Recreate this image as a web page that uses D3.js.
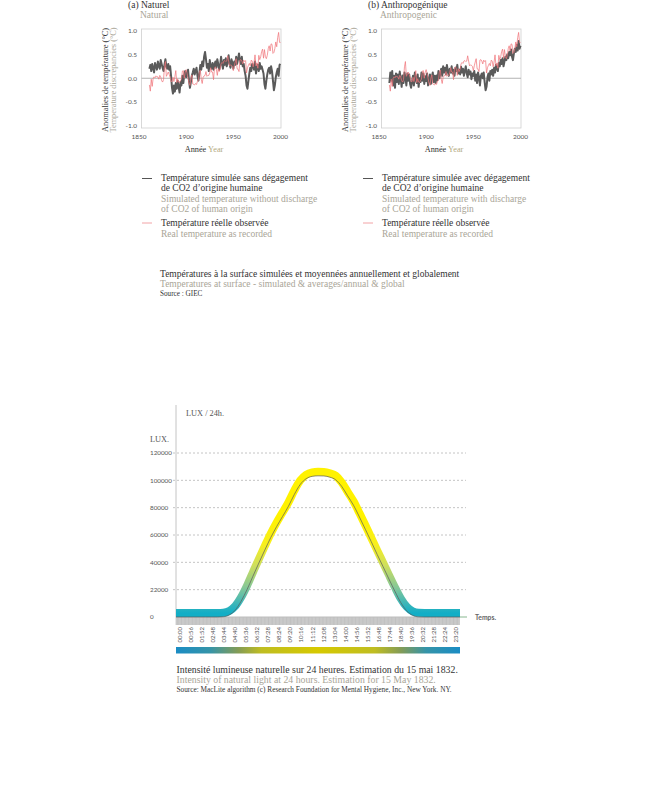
<!DOCTYPE html>
<html><head><meta charset="utf-8">
<script src="https://cdn.jsdelivr.net/npm/d3@7"></script>
<style>body{margin:0;background:#fff}svg{display:block}</style>
</head><body>
<svg id="c" width="648" height="800"></svg>
<script>
// ---------- Data: temperature panels ----------
const startYear = 1861;
const observed = [
 -0.14,-0.27,-0.02,-0.17,0.00,0.03,0.01,0.05,0.03,
 0.03,-0.02,0.06,0.03,-0.05,-0.08,-0.03,0.24,0.35,0.04,
 0.08,0.13,0.08,0.02,-0.07,-0.07,0.02,-0.07,0.03,0.16,
 -0.09,-0.01,-0.08,-0.09,-0.05,-0.02,0.15,0.16,0.00,0.13,
 0.18,0.10,0.00,-0.10,-0.15,0.00,0.07,-0.12,-0.13,-0.14,
 -0.11,-0.13,-0.06,-0.05,0.13,0.17,-0.02,-0.11,0.02,0.05,
 0.06,0.14,0.04,0.06,0.06,0.11,0.22,0.13,0.13,-0.03,
 0.20,0.24,0.19,0.06,0.20,0.14,0.19,0.30,0.33,0.31,
 0.36,0.37,0.35,0.36,0.47,0.36,0.26,0.28,0.27,0.25,
 0.16,0.26,0.34,0.41,0.20,0.19,0.14,0.38,0.39,0.36,
 0.30,0.38,0.35,0.37,0.11,0.22,0.27,0.31,0.26,0.38,
 0.36,0.24,0.34,0.49,0.26,0.32,0.21,0.48,0.39,0.45,
 0.56,0.61,0.42,0.60,0.45,0.41,0.48,0.62,0.68,0.57,
 0.72,0.71,0.52,0.54,0.62,0.76,0.66,0.85,0.96,0.75,
 0.75
];
const simNatural = [
 0.20,0.28,0.15,0.30,0.22,0.12,0.32,0.25,0.18,
 0.35,0.26,0.20,0.38,0.30,0.22,0.15,0.28,0.40,0.24,
 0.20,0.30,0.18,0.25,0.05,-0.20,-0.32,-0.15,-0.28,-0.10,
 -0.22,-0.05,-0.18,-0.30,-0.08,-0.15,0.05,-0.10,0.08,0.15,
 0.02,0.10,0.18,-0.05,-0.20,-0.08,0.05,0.12,0.20,0.08,
 0.15,0.22,0.05,-0.05,0.10,0.28,0.18,0.35,0.25,0.45,
 0.55,0.40,0.22,0.30,0.15,0.38,0.25,0.20,0.32,0.18,
 0.28,0.35,0.22,0.40,0.30,0.18,0.26,0.45,0.30,0.20,
 0.38,0.28,0.42,0.25,0.35,0.48,0.30,0.22,0.40,0.32,
 0.20,0.35,0.28,0.45,0.30,0.40,0.52,0.38,0.30,0.45,
 0.25,0.30,0.15,0.05,-0.15,-0.22,-0.05,0.10,0.22,0.15,
 0.30,0.25,0.18,0.35,0.10,0.22,0.28,0.15,0.32,0.20,
 0.25,0.18,0.10,-0.12,-0.22,-0.05,0.08,0.18,0.22,0.10,
 0.25,0.15,-0.05,-0.25,-0.15,0.02,0.12,0.20,0.05,0.28,
 0.30
];
const simAnthro = [
 -0.10,0.12,-0.05,0.15,-0.15,0.05,-0.20,0.10,-0.08,
 0.08,-0.12,0.14,-0.02,-0.18,0.06,-0.10,0.12,0.02,-0.15,
 0.10,-0.05,0.08,-0.12,-0.20,-0.08,0.05,-0.15,0.12,-0.02,
 -0.10,0.08,-0.18,0.00,-0.08,0.12,-0.05,0.10,-0.12,0.04,
 -0.06,0.10,-0.15,-0.05,0.08,-0.12,0.02,0.12,-0.08,0.05,
 -0.10,0.06,-0.04,0.15,0.00,0.10,0.20,0.05,0.25,0.12,
 0.22,0.08,0.28,0.15,0.05,0.20,0.12,0.25,0.10,0.18,
 0.05,0.22,0.15,0.28,0.10,0.18,0.08,0.24,0.12,0.20,
 0.05,0.15,0.25,0.10,0.02,0.18,0.08,0.14,-0.02,0.10,
 0.05,0.15,-0.05,0.08,-0.10,0.12,0.02,-0.15,0.05,0.10,
 0.00,0.12,-0.08,-0.25,-0.18,0.02,0.10,-0.05,0.15,0.08,
 0.18,0.05,0.22,0.12,0.28,0.20,0.15,0.32,0.25,0.38,
 0.30,0.42,0.25,0.35,0.45,0.38,0.50,0.42,0.55,0.48,
 0.60,0.45,0.38,0.52,0.62,0.55,0.70,0.58,0.78,0.62,
 0.68
];
const yearTicks = [1850, 1900, 1950, 2000];
const tempTicks = [1.0, 0.5, 0.0, -0.5, -1.0];
const tempTickLabels = ["1.0", "0.5", "0.0", "-0.5", "-1.0"];

// ---------- Data: light intensity ----------
const luxTimes = ["00:00","00:30","01:00","01:30","02:00","02:30","03:00","03:30","04:00","04:30",
 "05:00","05:30","06:00","06:30","07:00","07:30","08:00","08:30","09:00","09:30",
 "10:00","10:30","11:00","11:30","12:00","12:30","13:00","13:30","14:00","14:30",
 "15:00","15:30","16:00","16:30","17:00","17:30","18:00","18:30","19:00","19:30",
 "20:00","20:30","21:00","21:30","22:00","22:30","23:00","23:30","24:00"];
const luxValues = [0,0,0,0,0,0,0,0,200,1500,
 5000,11500,20000,29800,39500,48900,58000,66100,73500,81000,
 89700,97000,101200,102900,103300,103200,102300,100400,95600,88700,
 81800,73200,64200,55100,45800,36800,27700,18800,10500,4500,
 1200,100,0,0,0,0,0,0,0];
const luxTicks = [0, 20000, 40000, 60000, 80000, 100000, 120000];
const luxTickLabels = ["0", "22000", "40000", "60000", "80000", "100000", "120000"];
const timeLabels = ["00:00","00:56","01:52","02:48","03:44","04:40","05:36","06:32","07:28","08:24",
 "09:20","10:16","11:12","12:08","13:04","14:00","14:56","15:52","16:48","17:44",
 "18:40","19:36","20:32","21:28","22:24","23:20"];

// ---------- Styles ----------
const SERIF = "'Liberation Serif', 'Times New Roman', serif";
const SANS = "Lato, 'Open Sans', sans-serif";
const DARK = "#333333";
const TAN = "#a9a597";

const svg = d3.select("#c");

function txt(g, x, y, s, opt = {}) {
  return g.append("text").attr("x", x).attr("y", y).text(s)
    .attr("font-family", opt.family || SERIF)
    .attr("font-size", opt.size || 9.5)
    .attr("fill", opt.fill || DARK)
    .attr("text-anchor", opt.anchor || "start")
    .attr("font-weight", opt.weight || "normal");
}

// ---------- Temperature panels ----------
function panel(dx, frTitle, enTitle, sim) {
  const g = svg.append("g").attr("transform", `translate(${dx},0)`);
  const x = d3.scaleLinear().domain([1850, 2000]).range([139, 280.5]);
  const y = d3.scaleLinear().domain([-1, 1]).range([126, 30.5]);

  txt(g, 128, 7.5, frTitle, {size: 9.5});
  txt(g, 140, 17.5, enTitle, {size: 9.5, fill: TAN});

  g.append("rect").attr("x", 141.5).attr("y", 29).attr("width", 139.5).attr("height", 99)
    .attr("fill", "none").attr("stroke", "#cfcfcf").attr("stroke-width", 0.8);
  g.append("line").attr("x1", 141.5).attr("x2", 281).attr("y1", y(0)).attr("y2", y(0))
    .attr("stroke", "#b3b3b3").attr("stroke-width", 1);

  tempTicks.forEach((t, i) => {
    txt(g, 137, y(t) + 2.3, tempTickLabels[i], {family: SANS, size: 6.5, fill: "#555", anchor: "end"});
  });
  yearTicks.forEach(t => {
    txt(g, x(t), 139, String(t), {family: SANS, size: 6.5, fill: "#555", anchor: "middle"});
  });

  const yt = g.append("text").attr("transform", "translate(107.5,80) rotate(-90)")
    .attr("font-family", SERIF).attr("font-size", 8.3).attr("text-anchor", "middle");
  yt.append("tspan").attr("x", 0).attr("y", 0).attr("fill", DARK).text("Anomalies de température (°C)");
  yt.append("tspan").attr("x", 0).attr("y", 8.7).attr("fill", TAN).text("Temperature discrepancies (°C)");

  const xt = g.append("text").attr("x", 204).attr("y", 152).attr("text-anchor", "middle")
    .attr("font-family", SERIF).attr("font-size", 8.3);
  xt.append("tspan").attr("fill", DARK).text("Année ");
  xt.append("tspan").attr("fill", "#b3aa80").text("Year");

  const line = d3.line().x((d, i) => x(startYear + i)).y(d => y(d));
  g.append("path").datum(sim).attr("d", line).attr("fill", "none")
    .attr("stroke", "#5a5a5a").attr("stroke-width", 2).attr("stroke-linejoin", "round");
  g.append("path").datum(observed).attr("d", line).attr("fill", "none")
    .attr("stroke", "#ef7479").attr("stroke-width", 0.8).attr("stroke-opacity", 0.9);
}
panel(0, "(a) Naturel", "Natural", simNatural);
panel(240, "(b) Anthropogénique", "Anthropogenic", simAnthro);

// ---------- Legends ----------
function legend(dx, frLine1, enLine1) {
  const g = svg.append("g").attr("transform", `translate(${dx},0)`);
  g.append("line").attr("x1", 142).attr("x2", 152).attr("y1", 178.5).attr("y2", 178.5)
    .attr("stroke", "#555").attr("stroke-width", 1);
  txt(g, 161, 180.5, frLine1);
  txt(g, 161, 191, "de CO2 d’origine humaine");
  txt(g, 161, 201.5, enLine1, {fill: TAN});
  txt(g, 161, 212, "of CO2 of human origin", {fill: TAN});
  g.append("line").attr("x1", 142).attr("x2", 152).attr("y1", 223).attr("y2", 223)
    .attr("stroke", "#f2a3a6").attr("stroke-width", 1);
  txt(g, 161, 226, "Température réelle observée");
  txt(g, 161, 236.5, "Real temperature as recorded", {fill: TAN});
}
legend(0, "Température simulée sans dégagement", "Simulated temperature without discharge");
legend(221, "Température simulée avec dégagement", "Simulated temperature with discharge");

txt(svg, 160, 277, "Températures à la surface simulées et moyennées annuellement et globalement");
txt(svg, 160, 287, "Temperatures at surface - simulated & averages/annual & global", {fill: TAN});
txt(svg, 160, 295.5, "Source : GIEC", {size: 7.2});

// ---------- Light intensity chart ----------
const toMin = s => { const [h, m] = s.split(":").map(Number); return h * 60 + m; };
const xL = d3.scaleLinear().domain([0, 1440]).range([176, 460]);
const yL = d3.scaleLinear().domain([0, 120000]).range([617, 453]);
const lg = svg.append("g");

const defs = svg.append("defs");
const bandGrad = defs.append("linearGradient").attr("id", "bandGrad")
  .attr("gradientUnits", "userSpaceOnUse").attr("x1", 0).attr("x2", 0)
  .attr("y1", yL(0)).attr("y2", yL(70000));
[[0, "#12aec6"], [0.1, "#3db6b8"], [0.27, "#86c896"], [0.5, "#cfdf5c"], [0.72, "#f8ef1c"], [1, "#fff200"]]
  .forEach(([o, c]) => bandGrad.append("stop").attr("offset", o).attr("stop-color", c));
const barGrad = defs.append("linearGradient").attr("id", "barGrad")
  .attr("x1", 0).attr("x2", 1).attr("y1", 0).attr("y2", 0);
[[0, "#1a8cc4"], [0.12, "#3594a8"], [0.22, "#849c55"], [0.3, "#bfbd22"], [0.5, "#d6c900"],
 [0.7, "#bfbd22"], [0.79, "#849c55"], [0.88, "#3594a8"], [1, "#1a8cc4"]]
  .forEach(([o, c]) => barGrad.append("stop").attr("offset", o).attr("stop-color", c));

txt(lg, 186, 416, "LUX / 24h.", {size: 8.3, fill: "#555"});
txt(lg, 150, 441.5, "LUX.", {size: 8.3, fill: "#555"});

lg.append("line").attr("x1", 176).attr("x2", 176).attr("y1", 405).attr("y2", 617)
  .attr("stroke", "#c4c4c4").attr("stroke-width", 1);

luxTicks.forEach((t, i) => {
  if (t > 0) {
    lg.append("line").attr("x1", 173).attr("x2", 466).attr("y1", yL(t)).attr("y2", yL(t))
      .attr("stroke", "#b5b5b5").attr("stroke-width", 0.8).attr("stroke-dasharray", "2,2");
  }
  txt(lg, 150, yL(t) + 2.3, luxTickLabels[i], {family: SANS, size: 6.3, fill: "#555"});
});

// hatched time strip
lg.append("rect").attr("x", 176).attr("y", 617).attr("width", 284).attr("height", 8).attr("fill", "#d6d6d6");
lg.append("g").selectAll("line").data(d3.range(0, 1440, 7)).join("line")
  .attr("x1", d => xL(d)).attr("x2", d => xL(d)).attr("y1", 617).attr("y2", 625)
  .attr("stroke", "#b2b2b2").attr("stroke-width", 0.6);

lg.append("line").attr("x1", 176).attr("x2", 467).attr("y1", 617).attr("y2", 617)
  .attr("stroke", "#bdbdbd").attr("stroke-width", 1);
lg.append("line").attr("x1", 460).attr("x2", 467).attr("y1", 617).attr("y2", 617)
  .attr("stroke", "#a8d8b0").attr("stroke-width", 1);
txt(lg, 475, 619.5, "Temps.", {family: SANS, size: 6.8, fill: "#666", weight: "bold"});

const luxData = luxTimes.map((t, i) => ({m: toMin(t), v: luxValues[i]}));
const luxLine = d3.line().x(d => xL(d.m)).y(d => yL(d.v)).curve(d3.curveMonotoneX);
lg.append("path").datum(luxData).attr("d", luxLine).attr("transform", "translate(0,-4)")
  .attr("fill", "none").attr("stroke", "url(#bandGrad)").attr("stroke-width", 8);
lg.append("path").datum(luxData).attr("d", luxLine)
  .attr("fill", "none").attr("stroke", "#5a5a5a").attr("stroke-width", 0.7);

timeLabels.forEach((s, i) => {
  const xc = xL(toMin(s)) + 4;
  lg.append("text").attr("transform", `translate(${xc + 2},627) rotate(-90)`)
    .attr("text-anchor", "end").attr("font-family", SANS).attr("font-size", 6)
    .attr("fill", "#555").text(s);
});

lg.append("rect").attr("x", 176).attr("y", 647).attr("width", 284).attr("height", 6.5)
  .attr("fill", "url(#barGrad)");

txt(lg, 176.5, 673, "Intensité lumineuse naturelle sur 24 heures. Estimation du 15 mai 1832.", {size: 9.8});
txt(lg, 176.5, 683, "Intensity of natural light at 24 hours. Estimation for 15 May 1832.", {size: 9.8, fill: TAN});
txt(lg, 176.5, 691.5, "Source: MacLite algorithm (c) Research Foundation for Mental Hygiene, Inc., New York. NY.", {size: 7.3});
</script>
</body></html>
